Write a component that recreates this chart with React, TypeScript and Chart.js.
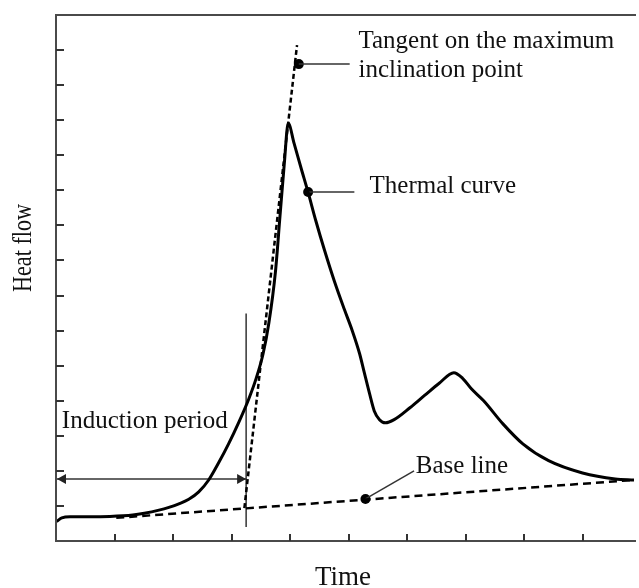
import React, { useEffect, useRef } from "react";
import { Chart, registerables } from "chart.js";

Chart.register(...registerables);

// Thermal curve (arbitrary units: time 0..9.88, heat flow 0..15)
const timeValues = [
  0.02, 0.1, 0.24, 0.58, 0.92, 1.31, 1.51, 1.76, 1.93, 2.1, 2.27, 2.44, 2.61, 2.78, 2.95, 3.12, 3.29, 3.42,
  3.54, 3.64, 3.75, 3.83, 3.9, 3.97, 4.07, 4.19, 4.31, 4.44, 4.59, 4.76, 4.93, 5.07, 5.19, 5.27, 5.36, 5.44,
  5.53, 5.63, 5.78, 6.05, 6.3, 6.55, 6.8, 6.95, 7.1, 7.31, 7.64, 7.98, 8.42, 9.0, 9.56, 9.88,
];
const heatFlow = [
  0.57, 0.66, 0.69, 0.69, 0.7, 0.74, 0.79, 0.88, 0.96, 1.06, 1.19, 1.4, 1.74, 2.23, 2.77, 3.37, 4.03, 4.63,
  5.34, 6.23, 7.66, 9.29, 10.71, 11.91, 11.34, 10.63, 9.94, 9.14, 8.29, 7.4, 6.6, 5.97, 5.34, 4.8, 4.2, 3.71,
  3.46, 3.37, 3.46, 3.8, 4.15, 4.5, 4.8, 4.64, 4.34, 4.0, 3.34, 2.77, 2.29, 1.94, 1.77, 1.74,
];

const baseLineX = [1.03, 9.88];
const baseLineY = [0.66, 1.74];
const tangentX = [3.22, 4.12];
const tangentY = [0.94, 14.14];
const inductionEndX = 3.25;
const inductionMarkY = [0.4, 6.49];
const inductionArrowY = 1.77;

const xMin = 0;
const xMax = 9.88;
const yMin = 0;
const yMax = 15;
const xTicks = [1, 2, 3, 4, 5, 6, 7, 8, 9];
const yTicks = [1, 2, 3, 4, 5, 6, 7, 8, 9, 10, 11, 12, 13, 14];

// Annotation markers (dot on curve -> leader end)
const markerX = [4.15, 4.31, 5.29];
const markerY = [13.6, 9.95, 1.2];
const leaderEndX = [5.02, 5.1, 6.12];
const leaderEndY = [13.6, 9.95, 2.0];

const annotationTexts = ["Tangent on the maximum", "inclination point", "Thermal curve", "Base line", "Induction period"];
const annotationX = [5.17, 5.17, 5.36, 6.15, 0.1];
const annotationY = [14.06, 13.22, 9.91, 1.94, 3.23];

const xTitle = "Time";
const yTitle = "Heat flow";

const SERIF = '"Liberation Serif", "DejaVu Serif", serif';

export default function App() {
  const ref = useRef<HTMLCanvasElement | null>(null);

  useEffect(() => {
    const canvas = ref.current;
    if (!canvas) return;

    const decor = {
      id: "decor",
      afterDatasetsDraw(chart: any) {
        const ctx = chart.ctx;
        const xs = chart.scales.x;
        const ys = chart.scales.y;
        const a = chart.chartArea;
        ctx.save();
        // frame
        ctx.strokeStyle = "#4a4a4a";
        ctx.lineWidth = 2;
        ctx.beginPath();
        ctx.moveTo(a.right + 2, a.top);
        ctx.lineTo(a.left, a.top);
        ctx.lineTo(a.left, a.bottom);
        ctx.lineTo(a.right + 2, a.bottom);
        ctx.stroke();
        // ticks (inward)
        ctx.strokeStyle = "#333";
        ctx.lineWidth = 2;
        ctx.beginPath();
        for (const t of xTicks) {
          const px = Math.round(xs.getPixelForValue(t));
          ctx.moveTo(px, a.bottom);
          ctx.lineTo(px, a.bottom - 7);
        }
        for (const t of yTicks) {
          const py = Math.round(ys.getPixelForValue(t));
          ctx.moveTo(a.left, py);
          ctx.lineTo(a.left + 8, py);
        }
        ctx.stroke();

        // arrowheads of induction period
        const ay = ys.getPixelForValue(inductionArrowY);
        const lx = xs.getPixelForValue(xMin) + 1;
        const rx = xs.getPixelForValue(inductionEndX);
        ctx.fillStyle = "#222";
        ctx.beginPath();
        ctx.moveTo(lx, ay);
        ctx.lineTo(lx + 9, ay - 5);
        ctx.lineTo(lx + 9, ay + 5);
        ctx.closePath();
        ctx.fill();
        ctx.beginPath();
        ctx.moveTo(rx, ay);
        ctx.lineTo(rx - 9, ay - 5);
        ctx.lineTo(rx - 9, ay + 5);
        ctx.closePath();
        ctx.fill();

        // annotation texts
        ctx.fillStyle = "#111";
        ctx.font = `25px ${SERIF}`;
        ctx.textAlign = "left";
        ctx.textBaseline = "alphabetic";
        annotationTexts.forEach((t, i) => {
          ctx.fillText(t, xs.getPixelForValue(annotationX[i]), ys.getPixelForValue(annotationY[i]));
        });

        // axis titles
        ctx.font = `27px ${SERIF}`;
        ctx.textAlign = "center";
        ctx.fillText(xTitle, 343, 585);
        ctx.save();
        ctx.translate(31, 248);
        ctx.rotate(-Math.PI / 2);
        ctx.fillText(yTitle, 0, 0, 88);
        ctx.restore();
        ctx.restore();
      },
    };

    const lineDs = (data: any[], color: string, width: number, dash: number[] = []) => ({
      data,
      showLine: true,
      borderColor: color,
      backgroundColor: color,
      borderWidth: width,
      borderDash: dash,
      pointRadius: 0,
      tension: 0,
      fill: false,
    });

    const datasets: any[] = [
      {
        ...lineDs(timeValues.map((x, i) => ({ x, y: heatFlow[i] })), "#000", 3),
        cubicInterpolationMode: "monotone",
        borderJoinStyle: "round",
        borderCapStyle: "round",
      },
      lineDs(baseLineX.map((x, i) => ({ x, y: baseLineY[i] })), "#000", 2.5, [8, 5]),
      lineDs(tangentX.map((x, i) => ({ x, y: tangentY[i] })), "#000", 2.5, [5, 3]),
      lineDs([{ x: inductionEndX, y: inductionMarkY[0] }, { x: inductionEndX, y: inductionMarkY[1] }], "#333", 1.5),
      lineDs([{ x: xMin, y: inductionArrowY }, { x: inductionEndX, y: inductionArrowY }], "#333", 1.5),
    ];
    markerX.forEach((x, i) => {
      datasets.push(lineDs([{ x, y: markerY[i] }, { x: leaderEndX[i], y: leaderEndY[i] }], "#333", 1.5));
    });
    datasets.push({
      data: markerX.map((x, i) => ({ x, y: markerY[i] })),
      showLine: false,
      pointRadius: 5,
      pointBackgroundColor: "#000",
      pointBorderColor: "#000",
      pointBorderWidth: 0,
    });

    const chart = new Chart(canvas, {
      type: "scatter",
      data: { datasets },
      options: {
        animation: false,
        responsive: false,
        maintainAspectRatio: false,
        layout: { padding: { left: 56, top: 15, right: 0, bottom: 47 } },
        plugins: { legend: { display: false }, tooltip: { enabled: false } },
        events: [],
        scales: {
          x: { type: "linear", min: xMin, max: xMax, display: false },
          y: { type: "linear", min: yMin, max: yMax, display: false },
        },
      },
      plugins: [decor],
    });
    return () => chart.destroy();
  }, []);

  return (
    <div style={{ position: "fixed", left: 0, top: 0, width: 639, height: 588, background: "#fff" }}>
      <canvas ref={ref} width={639} height={588} style={{ display: "block" }} />
    </div>
  );
}
